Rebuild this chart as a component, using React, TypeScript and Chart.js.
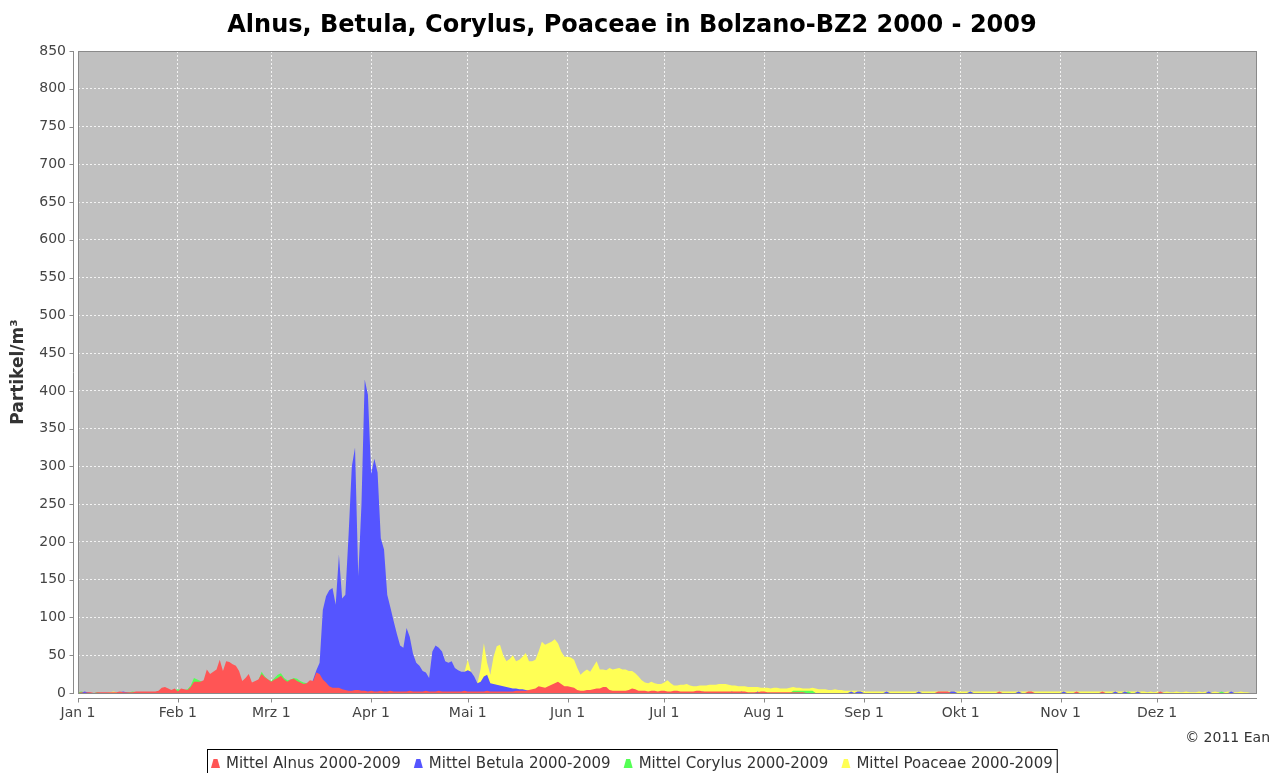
import React, { useEffect, useRef } from 'react';
import { Chart, registerables } from 'chart.js';
Chart.register(...registerables);

const TITLE = 'Alnus, Betula, Corylus, Poaceae in Bolzano-BZ2 2000 - 2009';
const Y_TITLE = 'Partikel/m³';
const COPYRIGHT = '© 2011 Ean';
const MONTH_DAYS = [0, 31, 60, 91, 121, 152, 182, 213, 244, 274, 305, 335];
const MONTH_LABELS = ['Jan 1', 'Feb 1', 'Mrz 1', 'Apr 1', 'Mai 1', 'Jun 1', 'Jul 1', 'Aug 1', 'Sep 1', 'Okt 1', 'Nov 1', 'Dez 1'];
const SERIES_NAMES = ['Mittel Alnus 2000-2009', 'Mittel Betula 2000-2009', 'Mittel Corylus 2000-2009', 'Mittel Poaceae 2000-2009'];
const SERIES_COLORS = ['#FF5555', '#5555FF', '#55FF55', '#FFFF55'];
const Y_MAX = 850;
const Y_STEP = 50;
const DAYS_IN_YEAR = 366;

// daily mean values, day 0 = Jan 1
const alnus = [
  0, 1, 0, 1, 1, 0, 1, 1, 1, 1,
  1, 1, 1, 2, 1, 1, 1, 1, 2, 2,
  2, 2, 2, 2, 2, 3, 7, 8, 6, 4,
  6, 2, 6, 5, 4, 8, 15, 15, 15, 17,
  31, 25, 28, 31, 44, 29, 42, 41, 38, 36,
  29, 16, 20, 25, 14, 16, 18, 25, 21, 18,
  15, 18, 20, 23, 18, 15, 18, 19, 16, 14,
  12, 13, 17, 16, 27, 25, 18, 14, 9, 7,
  7, 7, 5, 4, 3, 3, 4, 4, 3, 3,
  2, 3, 2, 2, 3, 2, 2, 3, 2, 2,
  2, 2, 2, 3, 2, 2, 2, 2, 3, 2,
  2, 2, 3, 2, 2, 2, 2, 2, 2, 2,
  3, 2, 2, 2, 2, 2, 2, 3, 2, 2,
  2, 2, 2, 2, 2, 2, 3, 3, 3, 3,
  4, 5, 6, 9, 8, 7, 9, 11, 13, 15,
  12, 9, 9, 8, 7, 4, 3, 3, 4, 4,
  5, 6, 6, 8, 8, 4, 3, 3, 3, 3,
  3, 4, 6, 5, 3, 3, 3, 2, 3, 3,
  2, 3, 3, 2, 2, 3, 3, 2, 2, 2,
  2, 2, 3, 3, 2, 2, 2, 2, 2, 2,
  2, 2, 2, 2, 2, 2, 2, 2, 1, 1,
  1, 1, 2, 2, 1, 1, 1, 1, 1, 1,
  1, 1, 1, 1, 1, 1, 0, 0, 0, 0,
  0, 0, 0, 0, 0, 0, 0, 0, 0, 0,
  0, 0, 0, 0, 0, 0, 0, 0, 0, 0,
  0, 0, 0, 0, 0, 0, 0, 0, 0, 0,
  0, 0, 0, 0, 0, 0, 0, 2, 2, 2,
  2, 0, 0, 0, 0, 0, 0, 0, 0, 0,
  0, 0, 0, 0, 0, 0, 2, 0, 0, 0,
  0, 0, 0, 0, 0, 2, 2, 0, 0, 0,
  0, 0, 0, 0, 0, 0, 0, 0, 0, 0,
  2, 0, 0, 0, 0, 0, 0, 0, 2, 0,
  0, 0, 0, 0, 0, 0, 0, 0, 0, 0,
  0, 0, 0, 0, 0, 0, 2, 0, 0, 0,
  0, 0, 0, 0, 0, 0, 0, 0, 0, 0,
  0, 0, 0, 0, 0, 0, 0, 0, 0, 0,
  0, 0, 0, 0, 0, 0,
];

const betula = [
  0, 0, 2, 1, 0, 0, 0, 0, 0, 0,
  0, 0, 0, 1, 2, 1, 0, 0, 0, 0,
  0, 0, 0, 0, 0, 0, 0, 0, 0, 0,
  0, 0, 0, 0, 0, 0, 0, 0, 0, 0,
  0, 0, 0, 0, 0, 0, 0, 0, 0, 0,
  1, 1, 1, 1, 1, 1, 1, 1, 1, 1,
  1, 1, 1, 2, 2, 2, 2, 2, 2, 2,
  2, 3, 6, 18, 30, 40, 110, 128, 136, 139,
  117, 183, 125, 130, 210, 300, 325, 155, 250, 415,
  395, 290, 310, 292, 205, 190, 130, 113, 95, 78,
  63, 60, 86, 74, 52, 40, 36, 29, 27, 20,
  55, 63, 60, 55, 42, 40, 42, 33, 30, 28,
  28, 30, 28, 22, 13, 15, 22, 24, 13, 12,
  11, 10, 9, 8, 7, 6, 6, 5, 5, 4,
  3, 2, 2, 1, 1, 1, 1, 1, 1, 1,
  1, 1, 1, 1, 1, 1, 1, 1, 1, 1,
  1, 1, 1, 1, 1, 0, 0, 0, 0, 0,
  0, 0, 0, 0, 0, 0, 0, 0, 0, 0,
  0, 0, 0, 0, 0, 0, 0, 0, 0, 0,
  0, 0, 0, 0, 2, 0, 0, 0, 0, 0,
  0, 0, 0, 2, 0, 0, 2, 0, 0, 0,
  0, 2, 0, 0, 0, 0, 0, 0, 0, 0,
  0, 0, 0, 0, 0, 0, 0, 0, 0, 0,
  0, 0, 0, 0, 0, 0, 0, 0, 0, 0,
  2, 0, 2, 2, 0, 0, 0, 0, 0, 0,
  0, 2, 0, 0, 0, 0, 0, 0, 0, 0,
  0, 2, 0, 0, 0, 0, 0, 0, 0, 0,
  0, 2, 2, 0, 0, 0, 0, 2, 0, 0,
  0, 0, 0, 0, 0, 0, 0, 0, 0, 0,
  0, 0, 2, 0, 0, 0, 0, 0, 0, 0,
  0, 0, 0, 0, 0, 0, 2, 0, 0, 0,
  0, 0, 0, 0, 0, 0, 0, 0, 0, 0,
  0, 0, 2, 0, 0, 2, 0, 0, 0, 2,
  0, 0, 0, 0, 0, 0, 0, 0, 0, 0,
  0, 0, 0, 0, 0, 0, 0, 0, 0, 0,
  0, 2, 0, 0, 0, 0, 0, 0, 2, 0,
  0, 0, 0, 0, 0, 0,
];

const corylus = [
  1, 2, 1, 1, 0, 0, 1, 0, 0, 0,
  0, 0, 0, 0, 0, 1, 1, 2, 1, 0,
  1, 1, 1, 1, 1, 2, 3, 4, 4, 3,
  4, 5, 4, 4, 5, 10, 20, 18, 16, 15,
  14, 14, 15, 14, 14, 13, 13, 12, 12, 12,
  12, 12, 13, 14, 12, 14, 17, 28, 22, 18,
  16, 20, 24, 26, 20, 17, 18, 20, 19, 16,
  14, 13, 12, 10, 8, 6, 5, 4, 3, 3,
  2, 2, 2, 2, 1, 1, 1, 1, 1, 1,
  1, 1, 1, 1, 1, 1, 1, 1, 1, 1,
  1, 1, 1, 1, 1, 0, 0, 0, 0, 0,
  0, 0, 0, 0, 0, 0, 0, 0, 0, 0,
  0, 0, 0, 0, 0, 0, 0, 0, 0, 0,
  0, 0, 0, 0, 0, 0, 0, 0, 0, 0,
  0, 0, 0, 0, 0, 0, 0, 0, 0, 0,
  0, 0, 0, 0, 0, 0, 0, 0, 0, 0,
  0, 0, 0, 0, 0, 0, 0, 0, 0, 0,
  0, 0, 0, 0, 0, 0, 0, 0, 0, 0,
  0, 0, 0, 0, 0, 0, 0, 0, 0, 0,
  0, 0, 0, 0, 0, 0, 0, 0, 0, 0,
  0, 0, 0, 0, 0, 0, 0, 0, 0, 0,
  0, 0, 0, 0, 0, 0, 0, 0, 0, 0,
  0, 0, 3, 3, 3, 3, 3, 3, 3, 0,
  0, 0, 0, 0, 0, 0, 0, 0, 0, 0,
  0, 0, 0, 0, 0, 0, 0, 0, 0, 0,
  0, 0, 0, 0, 0, 0, 0, 0, 0, 0,
  0, 0, 0, 0, 0, 0, 0, 0, 0, 0,
  0, 0, 0, 0, 0, 0, 0, 0, 0, 0,
  0, 0, 0, 0, 0, 0, 0, 0, 0, 0,
  0, 0, 0, 0, 0, 0, 0, 0, 0, 0,
  0, 0, 0, 0, 0, 0, 0, 0, 0, 0,
  0, 0, 0, 0, 0, 0, 0, 0, 0, 0,
  0, 0, 0, 0, 0, 0, 2, 0, 0, 0,
  0, 0, 0, 0, 0, 0, 0, 0, 0, 0,
  0, 0, 0, 0, 0, 0, 0, 0, 0, 0,
  0, 0, 0, 0, 0, 2, 0, 0, 0, 0,
  0, 0, 0, 0, 0, 0,
];

const poaceae = [
  0, 0, 0, 0, 0, 0, 0, 0, 0, 0,
  1, 2, 1, 0, 0, 0, 0, 1, 1, 0,
  0, 0, 0, 0, 0, 0, 0, 0, 0, 0,
  0, 0, 0, 0, 0, 0, 0, 0, 0, 0,
  0, 0, 0, 0, 0, 0, 0, 0, 0, 0,
  0, 0, 0, 0, 0, 0, 0, 0, 0, 0,
  0, 0, 0, 0, 0, 0, 0, 0, 0, 0,
  0, 0, 0, 0, 0, 0, 0, 0, 0, 0,
  0, 0, 0, 0, 0, 0, 0, 0, 0, 0,
  1, 1, 1, 1, 2, 2, 2, 2, 2, 3,
  3, 3, 3, 4, 4, 5, 5, 6, 6, 7,
  8, 9, 10, 10, 12, 12, 14, 15, 18, 22,
  28, 44, 28, 20, 13, 32, 66, 40, 24, 48,
  62, 64, 50, 42, 45, 50, 42, 44, 48, 53,
  42, 42, 44, 55, 68, 64, 66, 68, 71, 66,
  55, 48, 48, 47, 44, 33, 24, 28, 31, 28,
  35, 42, 31, 31, 30, 33, 31, 32, 33, 31,
  31, 29, 29, 26, 22, 17, 14, 13, 15, 13,
  12, 12, 14, 17, 13, 10, 10, 11, 11, 12,
  10, 9, 9, 10, 10, 10, 11, 11, 11, 12,
  12, 12, 11, 10, 10, 9, 9, 9, 8, 8,
  8, 8, 7, 7, 7, 6, 7, 7, 6, 6,
  6, 7, 8, 7, 7, 6, 6, 6, 7, 6,
  5, 5, 5, 4, 4, 5, 4, 4, 3, 3,
  3, 3, 3, 3, 2, 2, 2, 2, 2, 2,
  2, 2, 2, 2, 2, 2, 2, 2, 2, 2,
  2, 2, 2, 2, 2, 2, 2, 2, 2, 2,
  2, 2, 2, 2, 2, 2, 2, 2, 2, 2,
  2, 2, 2, 2, 2, 2, 2, 2, 2, 2,
  2, 2, 2, 2, 2, 2, 2, 2, 2, 2,
  2, 2, 2, 2, 2, 2, 2, 2, 2, 2,
  2, 2, 2, 2, 2, 2, 2, 2, 2, 2,
  2, 2, 2, 2, 2, 2, 2, 2, 2, 2,
  2, 2, 1, 2, 1, 2, 1, 1, 2, 1,
  1, 2, 1, 1, 2, 1, 1, 1, 2, 1,
  2, 1, 1, 2, 1, 1, 1, 2, 1, 1,
  1, 2, 1, 1, 0, 0,
];

const SERIES = [alnus, betula, corylus, poaceae];

const FONT = '"DejaVu Sans", sans-serif';

const decorPlugin = {
  id: 'decor',
  beforeDraw(chart: any) {
    const { ctx, chartArea: a } = chart;
    ctx.save();
    ctx.fillStyle = '#FFFFFF';
    ctx.fillRect(0, 0, chart.width, chart.height);
    ctx.fillStyle = '#C0C0C0';
    ctx.fillRect(a.left, a.top, a.right - a.left, a.bottom - a.top);
    ctx.restore();
  },
  afterDatasetsDraw(chart: any) {
    const { ctx, chartArea: a, scales } = chart;
    ctx.save();
    // plot outline
    ctx.strokeStyle = '#8A8A8A';
    ctx.lineWidth = 1;
    ctx.setLineDash([]);
    ctx.strokeRect(a.left + 0.5, a.top + 0.5, a.right - a.left - 1, a.bottom - a.top);
    // y axis line + tick marks
    const yAxisX = a.left - 4.5;
    ctx.strokeStyle = '#8A8A8A';
    ctx.beginPath();
    ctx.moveTo(yAxisX, a.top);
    ctx.lineTo(yAxisX, a.bottom + 1);
    for (let v = 0; v <= Y_MAX; v += Y_STEP) {
      const py = Math.round(scales.y.getPixelForValue(v)) + 0.5;
      ctx.moveTo(yAxisX - 4, py);
      ctx.lineTo(yAxisX, py);
    }
    // x axis line + tick marks
    const xAxisY = a.bottom + 5.5;
    ctx.moveTo(a.left, xAxisY);
    ctx.lineTo(a.right, xAxisY);
    MONTH_DAYS.forEach((d) => {
      const px = Math.round(scales.x.getPixelForValue(d)) + 0.5;
      ctx.moveTo(px, xAxisY);
      ctx.lineTo(px, xAxisY + 4);
    });
    ctx.stroke();

    // title
    ctx.fillStyle = '#000000';
    ctx.font = `bold 24px ${FONT}`;
    ctx.textAlign = 'center';
    ctx.textBaseline = 'alphabetic';
    ctx.fillText(TITLE, 632, 32);

    // y title
    ctx.save();
    ctx.translate(23, 372);
    ctx.rotate(-Math.PI / 2);
    ctx.font = `bold 17px ${FONT}`;
    ctx.fillStyle = '#333333';
    ctx.textAlign = 'center';
    ctx.fillText(Y_TITLE, 0, 0);
    ctx.restore();

    // copyright
    ctx.font = `14px ${FONT}`;
    ctx.fillStyle = '#333333';
    ctx.textAlign = 'right';
    ctx.fillText(COPYRIGHT, 1270, 742);

    // legend
    ctx.font = `15px ${FONT}`;
    ctx.textAlign = 'left';
    const markerW = 9;
    const gap = 6;
    const itemGap = 13;
    const pad = 4;
    const widths = SERIES_NAMES.map((n) => ctx.measureText(n).width);
    let total = pad * 2 + itemGap * (SERIES_NAMES.length - 1);
    widths.forEach((w) => { total += markerW + gap + w; });
    const left = Math.round(632 - total / 2);
    const top = 749;
    ctx.strokeStyle = '#000000';
    ctx.strokeRect(left + 0.5, top + 0.5, total, 30);
    let x = left + pad;
    const baseline = 768;
    SERIES_NAMES.forEach((n, i) => {
      ctx.fillStyle = SERIES_COLORS[i];
      ctx.beginPath();
      ctx.moveTo(x, baseline);
      ctx.lineTo(x + 2.5, baseline - 9);
      ctx.lineTo(x + markerW - 2.5, baseline - 9);
      ctx.lineTo(x + markerW, baseline);
      ctx.closePath();
      ctx.fill();
      ctx.fillStyle = '#333333';
      ctx.fillText(n, x + markerW + gap, baseline);
      x += markerW + gap + widths[i] + itemGap;
    });
    ctx.restore();
  },
};

export default function App() {
  const ref = useRef<HTMLCanvasElement>(null);
  useEffect(() => {
    if (!ref.current) return;
    const chart = new Chart(ref.current, {
      type: 'line',
      data: {
        datasets: SERIES.map((arr, i) => ({
          label: SERIES_NAMES[i],
          data: arr.map((v, d) => ({ x: d, y: v })),
          backgroundColor: SERIES_COLORS[i],
          borderColor: 'rgba(0,0,0,0)',
          borderWidth: 0,
          pointRadius: 0,
          tension: 0,
          fill: 'origin',
        })),
      },
      options: {
        responsive: false,
        animation: false,
        devicePixelRatio: 1,
        events: [],
        layout: { padding: { left: 0, top: 51, right: 27, bottom: 0 } },
        plugins: { legend: { display: false }, title: { display: false }, tooltip: { enabled: false } },
        scales: {
          x: {
            type: 'linear',
            min: 0,
            max: DAYS_IN_YEAR,
            afterBuildTicks: (s: any) => { s.ticks = MONTH_DAYS.map((v) => ({ value: v })); },
            afterFit: (s: any) => { s.height = 80; },
            ticks: {
              autoSkip: false,
              maxRotation: 0,
              padding: 12,
              color: '#444444',
              font: { family: FONT, size: 14 },
              callback: (v: any) => { const k = MONTH_DAYS.indexOf(Number(v)); return k >= 0 ? MONTH_LABELS[k] : ''; },
            },
            grid: { color: 'rgba(255,255,255,0.8)', lineWidth: 1, drawTicks: false },
            border: { display: false, dash: [2, 2] },
          },
          y: {
            type: 'linear',
            min: 0,
            max: Y_MAX,
            afterFit: (s: any) => { s.width = 78; },
            ticks: {
              stepSize: Y_STEP,
              padding: 12,
              color: '#444444',
              font: { family: FONT, size: 14 },
            },
            grid: { color: 'rgba(255,255,255,0.8)', lineWidth: 1, drawTicks: false },
            border: { display: false, dash: [2, 2] },
          },
        },
      },
      plugins: [decorPlugin],
    } as any);
    return () => chart.destroy();
  }, []);
  return (
    <div style={{ position: 'fixed', left: 0, top: 0, width: 1284, height: 773, background: '#fff' }}>
      <canvas ref={ref} width={1284} height={773} style={{ display: 'block', width: 1284, height: 773 }} />
    </div>
  );
}
